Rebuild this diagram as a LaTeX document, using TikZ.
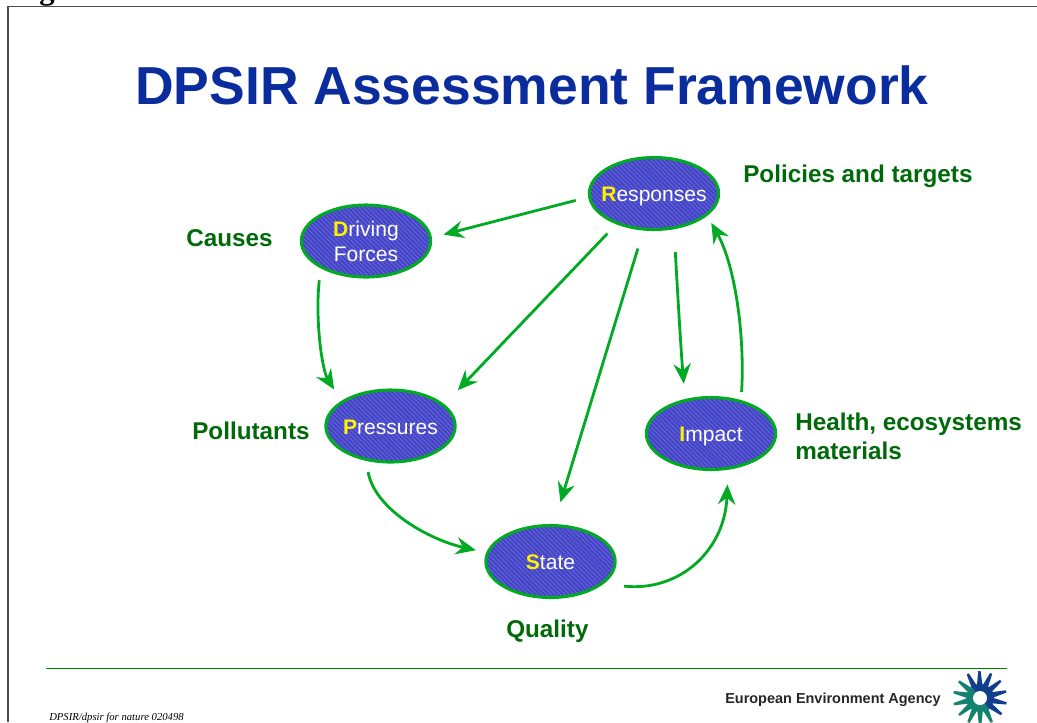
\documentclass[tikz,border=0pt]{standalone}
\usepackage{fontspec}
\setmainfont{Liberation Sans}
\newfontfamily\serifit{Liberation Serif}
\usetikzlibrary{arrows.meta,patterns.meta,shapes.geometric}
\definecolor{ringgreen}{HTML}{00AA22}
\definecolor{labelgreen}{HTML}{006A0A}
\definecolor{titleblue}{HTML}{0A2C9C}
\definecolor{ellblue}{HTML}{4444C6}
\definecolor{hatchlight}{HTML}{6C6CDC}
\definecolor{ruleg}{HTML}{008000}
\definecolor{logoteal}{HTML}{14826E}
\definecolor{logoblue}{HTML}{123F8C}
\tikzset{
 x=0.75pt,y=-0.75pt,
 stage/.style={ellipse,draw=ringgreen,line width=2.3pt,minimum width=97pt,minimum height=54pt,inner sep=0pt,
   preaction={fill=ellblue},pattern={Lines[angle=-45,distance=2.4pt,line width=.5pt]},pattern color=hatchlight,
   text=white,font=\fontsize{15.8}{19}\selectfont,align=center},
 link/.style={draw=ringgreen,line width=2.1pt,-{Stealth[length=15pt,width=13pt,inset=5pt]}},
 lab/.style={text=labelgreen,font=\bfseries\fontsize{18.2}{21.5}\selectfont,inner sep=0pt,align=left},
}
\newcommand{\ini}[1]{\textcolor{yellow}{\bfseries #1}}
\newcommand{\tx}[1]{\raisebox{-6pt}[0pt][0pt]{\makebox[0pt]{#1}}}
\begin{document}
\begin{tikzpicture}
\useasboundingbox (0,0) rectangle (1037,722);
\begin{scope}
\clip (0,0) rectangle (1037,722);
\node[inner sep=0pt,anchor=base] (frag) at (47,-1) {\serifit\bfseries\fontsize{23}{24}\selectfont g};
\end{scope}
\coordinate (ftl) at (8,6.5);
\draw[line width=.8pt,black!70] (8,722) -- (ftl) -- (1037,6.5);
\node[text=titleblue,font=\bfseries\fontsize{40.1}{48}\selectfont,inner sep=0pt] (title) at (532,85) {DPSIR Assessment Framework};
\node[stage] (R) at (654,193.5) {\tx{\ini{R}esponses}};
\node[stage] (D) at (366,241) {\tx{\ini{D}riving}\\\tx{Forces}};
\node[stage] (P) at (390.5,426) {\tx{\ini{P}ressures}};
\node[stage] (I) at (711,433.5) {\tx{\ini{I}mpact}};
\node[stage] (S) at (550.5,561.5) {\tx{\ini{S}tate}};
\draw[link,shorten <=10.5pt,shorten >=9pt] (R.183.5) -- (D.3.6);
\draw[link,shorten <=10.5pt,shorten >=14.5pt] (R.219.2) -- (P.22.5);
\draw[link,shorten <=15pt,shorten >=17pt] (R.254.5) -- (S.85.5);
\draw[link,shorten <=18pt,shorten >=11.5pt] (R.300.2) .. controls (678,300) and (681,350) .. (I.127.4);
\draw[link,shorten <=6pt,shorten >=7pt] (I.48.9) .. controls (745,335) and (735,265) .. (R.-22.2);
\draw[link,shorten <=9pt,shorten >=10pt] (D.211) .. controls (315,320) and (322,370) .. (P.153.7);
\draw[link,shorten <=8.5pt,shorten >=8pt] (P.235.7) .. controls (375,510) and (430,540) .. (S.172.5);
\draw[link,shorten <=15.5pt,shorten >=11pt] (S.337.7) .. controls (680,592) and (725,550) .. (I.295.4);
\node[lab,anchor=west] (l1) at (743,176.5) {Policies and targets};
\node[lab,anchor=west] (l2) at (186,238) {Causes};
\node[lab,anchor=west] (l3) at (192,431) {Pollutants};
\node[lab,anchor=west] (l4) at (795,436.5) {Health, ecosystems\\materials};
\node[lab,anchor=west] (l5) at (506,631) {Quality};
\coordinate (rl) at (46,668.5);
\coordinate (rr) at (1007,668.5);
\draw[ruleg,line width=.9pt] (rl) -- (rr);
\node[anchor=west,inner sep=0pt,font=\serifit\itshape\fontsize{8}{9}\selectfont] (foot) at (49,718) {DPSIR/dpsir for nature 020498};
\node[anchor=west,inner sep=0pt,font=\bfseries\fontsize{10.85}{12}\selectfont,text=black!85] (eea) at (725,700) {European Environment Agency};
\begin{scope}[shift={(980,698)}]
 \foreach \a in {64,89.7,...,225}{
  \fill[logoteal] (\a-12.5:13) -- (\a-2.5:27) -- (\a+2.5:27) -- (\a+12.5:13) -- cycle;}
 \foreach \a in {243,268.7,...,420}{
  \fill[logoblue] (\a-12.5:13) -- (\a-2.5:27) -- (\a+2.5:27) -- (\a+12.5:13) -- cycle;}
 \fill[logoteal] (50:14) arc (50:232:14) -- cycle;
 \fill[logoblue] (232:14) arc (232:410:14) -- cycle;
 \fill[white] (0,0) circle (7);
\end{scope}
\end{tikzpicture}
\end{document}
